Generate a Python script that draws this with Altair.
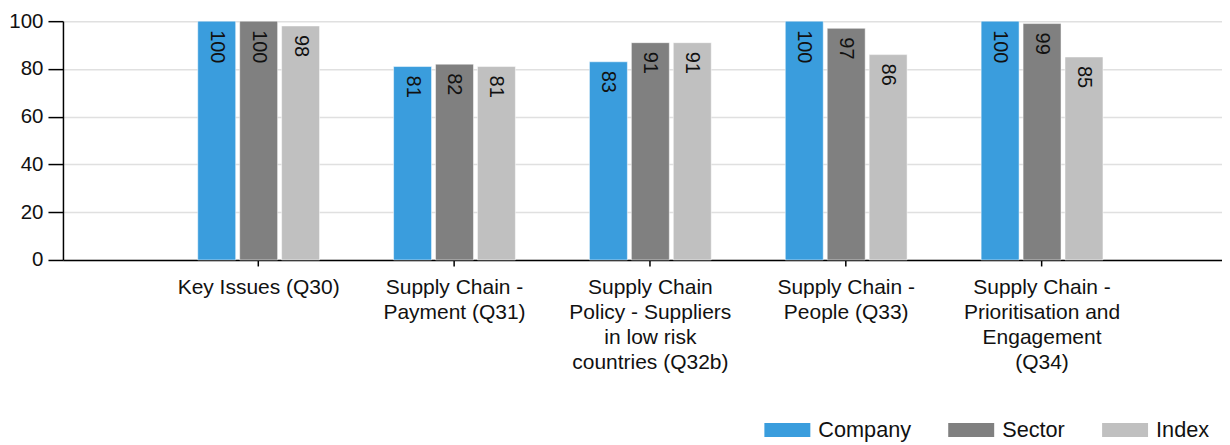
import altair as alt
import pandas as pd

categories = [
    "Key Issues (Q30)",
    "Supply Chain - Payment (Q31)",
    "Supply Chain Policy - Suppliers in low risk countries (Q32b)",
    "Supply Chain - People (Q33)",
    "Supply Chain - Prioritisation and Engagement (Q34)",
]
label_lines = [
    ["Key Issues (Q30)"],
    ["Supply Chain -", "Payment (Q31)"],
    ["Supply Chain", "Policy - Suppliers", "in low risk", "countries (Q32b)"],
    ["Supply Chain -", "People (Q33)"],
    ["Supply Chain -", "Prioritisation and", "Engagement", "(Q34)"],
]
series = ["Company", "Sector", "Index"]
company = [100, 81, 83, 100, 100]
sector = [100, 82, 91, 97, 99]
index_vals = [98, 81, 91, 86, 85]
colors = ["#3a9ddd", "#808080", "#c0c0c0"]

rows = []
for i, c in enumerate(categories):
    for s, vals in zip(series, [company, sector, index_vals]):
        rows.append({"category": c, "series": s, "value": vals[i]})
df = pd.DataFrame(rows)

mapping = "{" + ",".join(
    '"%s": [%s]' % (c, ",".join('"%s"' % l for l in lines))
    for c, lines in zip(categories, label_lines)
) + "}"
label_expr = mapping + "[datum.label]"

font = "Liberation Sans"

x = alt.X(
    "category:N",
    sort=categories,
    title=None,
    scale=alt.Scale(paddingInner=0.378, paddingOuter=0.648, align=0.531),
    axis=alt.Axis(
        labelAngle=0,
        labelExpr=label_expr,
        labelFontSize=21,
        labelLineHeight=25,
        labelFont=font,
        labelColor="#111111",
        labelPadding=11,
        labelLimit=300,
        tickSize=6,
        tickColor="#000000",
        tickWidth=1.5,
        domainColor="#000000",
        domainWidth=1.5,
        grid=False,
    ),
)
y = alt.Y(
    "value:Q",
    title=None,
    scale=alt.Scale(domain=[0, 100], nice=False),
    axis=alt.Axis(
        values=[0, 20, 40, 60, 80, 100],
        labelFontSize=20.5,
        labelFont=font,
        labelColor="#111111",
        labelPadding=5,
        tickSize=15,
        tickColor="#000000",
        tickWidth=1.5,
        domainColor="#000000",
        domainWidth=1.5,
        gridColor="#e0e0e0",
        gridWidth=1.5,
    ),
)
xoff = alt.XOffset(
    "series:N", sort=series, scale=alt.Scale(paddingInner=0.095, paddingOuter=0)
)

bars = alt.Chart(df).mark_bar(stroke="white", strokeWidth=1, strokeOpacity=0.5).encode(
    x=x,
    y=y,
    xOffset=xoff,
    color=alt.Color(
        "series:N",
        sort=series,
        scale=alt.Scale(domain=series, range=colors),
        legend=alt.Legend(
            title=None,
            orient="none",
            legendX=702,
            legendY=386,
            direction="horizontal",
            symbolType="M-1,-0.3H1V0.3H-1Z",
            symbolSize=2116,
            symbolStrokeWidth=0,
            labelFontSize=21.7,
            labelFont=font,
            labelColor="#111111",
            labelOffset=8,
            columnPadding=37,
            padding=0,
        ),
    ),
)

text = alt.Chart(df).mark_text(
    angle=90, align="left", baseline="middle", dx=9, fontSize=20, font=font, color="#111111"
).encode(
    x=alt.X("category:N", sort=categories),
    y=alt.Y("value:Q"),
    xOffset=alt.XOffset("series:N", sort=series),
    text=alt.Text("value:Q"),
)

chart = (
    alt.layer(bars, text)
    .properties(
        width=1160,
        height=239,
        autosize=alt.AutoSizeParams(type="none"),
        padding={"left": 55, "top": 13, "right": 0, "bottom": 185},
    )
    .configure_view(stroke=None)
)

chart.save("out.html", embed_options={"renderer": "svg", "actions": False})
